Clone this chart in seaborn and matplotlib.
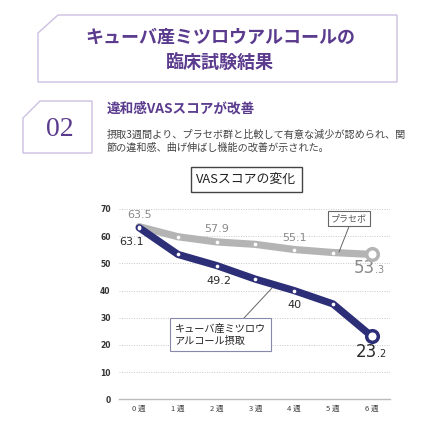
import matplotlib
matplotlib.use("Agg")
import matplotlib.pyplot as plt
import seaborn as sns
import pandas as pd
from matplotlib.patches import Polygon, Rectangle

weeks = ["0 週", "1 週", "2 週", "3 週", "4 週", "5 週", "6 週"]
placebo = [63.5, 59.8, 57.9, 57.0, 55.1, 54.0, 53.3]
treatment = [63.1, 53.3, 49.2, 44.2, 40.0, 35.1, 23.2]
yticks = [0, 10, 20, 30, 40, 50, 60, 70]

title_lines = ["キューバ産ミツロウアルコールの", "臨床試験結果"]
section_no = "02"
section_title = "違和感VASスコアが改善"
body_lines = ["摂取3週間より、プラセボ群と比較して有意な減少が認められ、関",
              "節の違和感、曲げ伸ばし機能の改善が示された。"]
chart_title = "VASスコアの変化"
placebo_name = "プラセボ"
treat_name = "キューバ産ミツロウ\nアルコール摂取"

sns.set_theme(style="white")
plt.rcParams['font.family'] = ['Noto Sans CJK JP', 'DejaVu Sans']

W, H = 438, 430
fig = plt.figure(figsize=(W / 100, H / 100), dpi=100)
fig.patch.set_facecolor("white")

def fx(x):
    return x / W

def fy(y):
    return 1 - y / H

PURPLE = "#5B3B8E"
LAV = "#CDBFE0"
GRAY_LINE = "#B4B4B4"
NAVY = "#2D2E78"

# top chamfered box
pts = [(38, 33), (58, 15), (397, 15), (397, 82), (38, 82)]
fig.add_artist(Polygon([(fx(a), fy(b)) for a, b in pts], closed=True, fill=False,
                       edgecolor=LAV, lw=1.0, transform=fig.transFigure))
fig.text(fx(220), fy(37), title_lines[0], ha="center", va="center", fontsize=13,
         fontweight="bold", color=PURPLE)
fig.text(fx(220), fy(62), title_lines[1], ha="center", va="center", fontsize=13,
         fontweight="bold", color=PURPLE)

# section number box
pts2 = [(23, 118), (40, 101), (92, 101), (92, 153), (23, 153)]
fig.add_artist(Polygon([(fx(a), fy(b)) for a, b in pts2], closed=True, fill=False,
                       edgecolor=LAV, lw=1.0, transform=fig.transFigure))
fig.text(fx(60), fy(129), section_no, ha="center", va="center", fontsize=20,
         family="Liberation Serif", color=PURPLE)
fig.text(fx(107), fy(109), section_title, ha="left", va="center", fontsize=9.8,
         fontweight="bold", color=PURPLE)
fig.text(fx(107), fy(135), body_lines[0], ha="left", va="center", fontsize=7.3, color="#444444")
fig.text(fx(107), fy(148), body_lines[1], ha="left", va="center", fontsize=7.3, color="#444444")

# chart title box
fig.add_artist(Rectangle((fx(191), fy(191.5)), fx(302) - fx(191), fy(167) - fy(191.5),
                         fill=False, edgecolor="#444444", lw=1.0, transform=fig.transFigure))
fig.text(fx(246.5), fy(179.5), chart_title, ha="center", va="center", fontsize=9.3, color="#222222")

# axes
ax = fig.add_axes([fx(119), fy(399.4), fx(390) - fx(119), fy(209) - fy(399.4)])
x = list(range(len(weeks)))
df = pd.DataFrame({"x": x * 2,
                   "y": placebo + treatment,
                   "group": ["placebo"] * len(x) + ["treat"] * len(x)})
sns.lineplot(data=df, x="x", y="y", hue="group",
             palette={"placebo": GRAY_LINE, "treat": NAVY},
             lw=5.2, legend=False, ax=ax, solid_capstyle="round", zorder=3)
ax.scatter(x[:-1], placebo[:-1], s=7, color="white", zorder=5, lw=0)
ax.scatter(x[:-1], treatment[:-1], s=7, color="white", zorder=5, lw=0)
ax.scatter([x[-1]], [placebo[-1]], s=70, facecolor="white", edgecolor=GRAY_LINE, lw=2.5, zorder=6)
ax.scatter([x[-1]], [treatment[-1]], s=70, facecolor="white", edgecolor=NAVY, lw=2.5, zorder=6)

ax.set_xlim(-0.52, 6.47)
ax.set_ylim(0, 70)
ax.set_yticks(yticks)
ax.set_yticklabels([str(v) for v in yticks], fontsize=5.5, color="#333333",
                   family="DejaVu Sans", fontweight="bold")
ax.set_xticks(x)
ax.set_xticklabels(weeks, fontsize=5.5, color="#444444")
ax.tick_params(axis="both", length=0)
ax.tick_params(axis="y", pad=6)
ax.tick_params(axis="x", pad=4)
for s in ["top", "right", "left"]:
    ax.spines[s].set_visible(False)
ax.spines["bottom"].set_color("#BBBBBB")
ax.spines["bottom"].set_linewidth(1.0)
for v in yticks[1:]:
    ax.axhline(v, color="#C8C8C8", lw=0.7, ls=(0, (1, 1.5)), zorder=1)
ax.set_xlabel("")
ax.set_ylabel("")
ax.patch.set_alpha(0)

def lab(xi, yi, txt, dx, dy, color, size=8, ha="center", va="center"):
    ax.annotate(txt, (xi, yi), xytext=(dx, dy), textcoords="offset pixels",
                ha=ha, va=va, fontsize=size, color=color, family="DejaVu Sans")

PG = "#8A8A8A"
DK = "#2A2A2A"
lab(0, placebo[0], "63.5", 0, 12, PG)
lab(2, placebo[2], "57.9", 0, 13, PG)
lab(4, placebo[4], "55.1", 0, 12, PG)
lab(0, treatment[0], "63.1", -8, -14, DK)
lab(2, treatment[2], "49.2", 2, -15, DK)
lab(4, treatment[4], "40", 0, -14, DK)
# big end labels
pl_int, pl_dec = f"{placebo[-1]:.1f}".split(".")
tr_int, tr_dec = f"{treatment[-1]:.1f}".split(".")
lab(6, placebo[-1], pl_int, 3, -19, PG, size=12, ha="right", va="baseline")
lab(6, placebo[-1], "." + pl_dec, 3, -19, PG, size=7, ha="left", va="baseline")
lab(6, treatment[-1], tr_int, 5, -21, DK, size=12, ha="right", va="baseline")
lab(6, treatment[-1], "." + tr_dec, 5, -21, DK, size=7, ha="left", va="baseline")

# callouts
fig.add_artist(plt.Line2D([fx(350), fx(339)], [fy(224), fy(252)], color="#666666", lw=0.7,
                          transform=fig.transFigure))
fig.text(fx(349), fy(218.5), placebo_name, ha="center", va="center", fontsize=6.5, color="#555555",
         bbox=dict(boxstyle="square,pad=0.35", fc="white", ec="#666666", lw=0.8))
fig.add_artist(plt.Line2D([fx(244), fx(272)], [fy(318), fy(288)], color="#666666", lw=0.7,
                          transform=fig.transFigure, zorder=10))
fig.text(fx(175), fy(334.5), treat_name, ha="left", va="center", fontsize=7.3, color="#222222",
         linespacing=1.3,
         bbox=dict(boxstyle="square,pad=0.5", fc="white", ec="#8888AA", lw=0.8), zorder=11)

fig.savefig("out.png", dpi=100)
